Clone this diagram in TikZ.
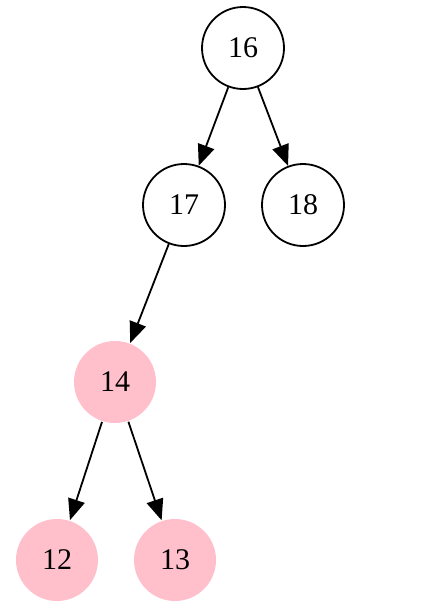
\documentclass[tikz,border=0pt]{standalone}
\usepackage{fontspec}
\setmainfont{Liberation Serif}
\usetikzlibrary{arrows.meta,positioning}

\definecolor{heappink}{HTML}{FFC0CB}

\begin{document}
\begin{tikzpicture}[
x=1pt, y=1pt,
on grid,
vertex/.style={draw, circle, line width=1.8pt, minimum size=82pt, inner sep=0pt, font=\fontsize{30}{36}\selectfont},
marked/.style={vertex, draw=none, fill=heappink},
edge/.style={-{Triangle[length=21pt, width=17pt]}, line width=1.8pt},
]
\useasboundingbox (0,0) rectangle (427,-614);
\node[vertex] (n16) at (243,-48) {16};
\node[vertex, below left=157pt and 59pt of n16] (n17) {17};
\node[vertex, below right=157pt and 60pt of n16] (n18) {18};
\node[marked, below left=177pt and 69pt of n17] (n14) {14};
\node[marked, below left=178pt and 58pt of n14] (n12) {12};
\node[marked, below right=178pt and 60pt of n14] (n13) {13};

\draw[edge] (n16) -- (n17);
\draw[edge] (n16) -- (n18);
\draw[edge] (n17) -- (n14);
\draw[edge] (n14) -- (n12);
\draw[edge] (n14) -- (n13);
\end{tikzpicture}
\end{document}
